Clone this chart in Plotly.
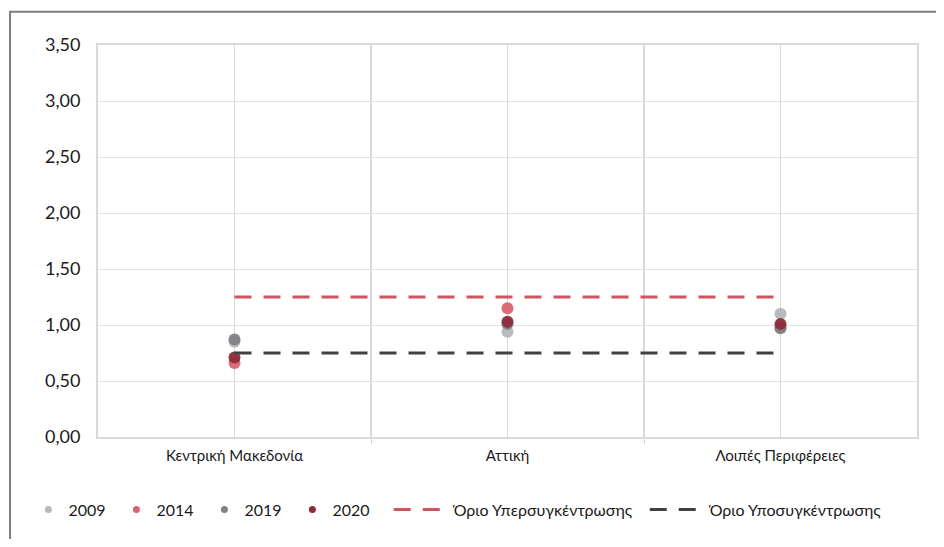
import plotly.graph_objects as go

# Data
regions = ["Κεντρική Μακεδονία", "Αττική", "Λοιπές Περιφέρειες"]
years = ["2009", "2014", "2019", "2020"]
values_2009 = [0.85, 0.94, 1.10]
values_2014 = [0.66, 1.15, 0.98]
values_2019 = [0.87, 1.01, 0.97]
values_2020 = [0.71, 1.03, 1.01]
upper_limit = [1.25, 1.25, 1.25]
lower_limit = [0.75, 0.75, 0.75]
y_ticks = [0, 0.5, 1.0, 1.5, 2.0, 2.5, 3.0, 3.5]

series = [values_2009, values_2014, values_2019, values_2020]
colors = ["#b5b8bc", "#d8656e", "#818286", "#8e2b3b"]

x_pos = list(range(len(regions)))

fig = go.Figure()

for name, vals, col in zip(years, series, colors):
    fig.add_trace(go.Scatter(
        x=x_pos, y=vals, mode="markers", name=name, showlegend=False,
        legendgroup=name, marker=dict(color=col, size=12, opacity=0.95),
    ))
    # small legend-only marker, like the original legend
    fig.add_trace(go.Scatter(
        x=[None], y=[None], mode="markers", name=name, legend="legend",
        legendgroup=name, marker=dict(color=col, size=7),
    ))

fig.add_trace(go.Scatter(
    x=x_pos, y=upper_limit, mode="lines", name="Όριο Υπερσυγκέντρωσης",
    legend="legend2",
    line=dict(color="#d0545f", width=3, dash="17px,12px"),
))
fig.add_trace(go.Scatter(
    x=x_pos, y=lower_limit, mode="lines", name="Όριο Υποσυγκέντρωσης",
    legend="legend2",
    line=dict(color="#404040", width=3, dash="17px,12px"),
))

# the page body adds an 8px margin, so the figure is 16px smaller
fig.update_layout(
    width=928, height=531,
    margin=dict(l=90, r=19, t=37, b=94),
    plot_bgcolor="white",
    paper_bgcolor="white",
    separators=",.",
    font=dict(family="Lato, sans-serif", color="#1a1a1a"),
    showlegend=True,
    legend=dict(
        orientation="h", x=-0.085, xanchor="left", y=-0.185, yanchor="middle",
        font=dict(size=16), itemsizing="trace",
        entrywidth=43, entrywidthmode="pixels",
    ),
    legend2=dict(
        orientation="h", x=0.355, xanchor="left", y=-0.185, yanchor="middle",
        font=dict(size=16), itemwidth=55,
        entrywidth=186, entrywidthmode="pixels",
    ),
    xaxis=dict(
        range=[-0.5, 2.5],
        tickvals=x_pos, ticktext=regions,
        tickfont=dict(size=15), ticklabelstandoff=4,
        showgrid=True, gridcolor="#d9d9d9", gridwidth=1,
        showline=True, linecolor="#d9d9d9", linewidth=2, mirror=True,
        zeroline=False, ticks="",
        minor=dict(tickvals=[0.5, 1.5], showgrid=True, gridcolor="#d9d9d9",
                   gridwidth=2, ticks="outside", ticklen=5, tickcolor="#d9d9d9"),
    ),
    yaxis=dict(
        range=[0, 3.5],
        tickvals=y_ticks, tickformat=".2f",
        tickfont=dict(size=18),
        showgrid=True, gridcolor="#e3e3e3", gridwidth=1,
        showline=True, linecolor="#d9d9d9", linewidth=2, mirror=True,
        zeroline=False, ticks="", ticklabelstandoff=12,
    ),
)

# outer chart frame (left and top visible)
fig.add_shape(
    type="rect", xref="paper", yref="paper",
    x0=-0.1074, x1=1.05, y0=-0.30, y1=1.085,
    line=dict(color="#7f7f7f", width=2), layer="below",
)

fig.write_html("out.html")
